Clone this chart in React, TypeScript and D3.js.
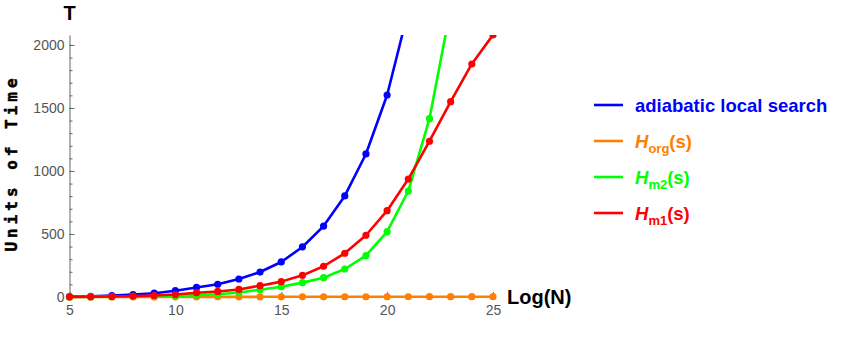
import React, { useRef, useEffect } from 'react';
import * as d3 from 'd3';

// log(N) sample points
const logN = [5, 6, 7, 8, 9, 10, 11, 12, 13, 14, 15, 16, 17, 18, 19, 20, 21, 22, 23, 24, 25];

// units of time
const adiabaticLocal = [3, 6, 12, 20, 30, 50, 76, 101, 143, 198, 278, 397, 563, 802, 1135, 1603, 2270];
const hOrg = [0.5, 0.6, 0.7, 0.8, 0.9, 1, 1.1, 1.2, 1.3, 1.4, 1.5, 1.6, 1.7, 1.8, 1.9, 2, 2.1, 2.2, 2.3, 2.4, 2.5];
const hM2 = [0.5, 1, 2, 3, 5, 9, 15, 22, 36, 58, 82, 114, 153, 222, 328, 518, 841, 1415, 2290];
const hM1 = [1, 2, 4, 7, 12, 20, 34, 44, 60, 90, 122, 172, 244, 347, 490, 685, 936, 1236, 1550, 1849, 2080];

const xMajorTicks = [5, 10, 15, 20, 25];
const yMajorTicks = [0, 500, 1000, 1500, 2000];

const series = [
  { key: 'adiabatic', values: adiabaticLocal, color: '#0000ff', label: 'adiabatic local search', sub: '' },
  { key: 'org', values: hOrg, color: '#ff8000', label: 'H', sub: 'org' },
  { key: 'm2', values: hM2, color: '#00ff00', label: 'H', sub: 'm2' },
  { key: 'm1', values: hM1, color: '#ff0000', label: 'H', sub: 'm1' },
];

const App = () => {
  const svgRef = useRef(null);

  useEffect(() => {
    const width = 844;
    const height = 347;
    const svg = d3.select(svgRef.current);
    svg.selectAll('*').remove();
    svg.attr('width', width).attr('height', height);

    const font = '"Liberation Sans", Arial, sans-serif';
    const axisColor = '#666';

    const x = d3.scaleLinear().domain([5, 25]).range([69.5, 493]);
    const y = d3.scaleLinear().domain([0, 2079]).range([297, 35]);

    svg.append('defs').append('clipPath').attr('id', 'plotclip')
      .append('rect').attr('x', 0).attr('y', 35).attr('width', width).attr('height', height - 35);

    // minor ticks
    svg.append('g')
      .attr('transform', `translate(0,${y(0)})`)
      .call(d3.axisBottom(x).tickValues(d3.range(5, 26)).tickSize(-3).tickFormat(() => ''))
      .call(g => g.select('.domain').remove())
      .call(g => g.selectAll('line').attr('stroke', axisColor));
    svg.append('g')
      .attr('transform', `translate(${x(5)},0)`)
      .call(d3.axisLeft(y).tickValues(d3.range(0, 2001, 100)).tickSize(-3).tickFormat(() => ''))
      .call(g => g.select('.domain').remove())
      .call(g => g.selectAll('line').attr('stroke', axisColor));

    // x axis
    svg.append('g')
      .attr('transform', `translate(0,${y(0)})`)
      .call(d3.axisBottom(x).tickValues(xMajorTicks).tickSize(-5).tickSizeOuter(0).tickPadding(8).tickFormat(d3.format('d')))
      .call(g => g.attr('font-size', 14).attr('font-family', font))
      .call(g => g.select('.domain').attr('stroke', axisColor))
      .call(g => g.selectAll('line').attr('stroke', axisColor))
      .call(g => g.selectAll('text').attr('fill', '#555'));

    // y axis
    svg.append('g')
      .attr('transform', `translate(${x(5)},0)`)
      .call(d3.axisLeft(y).tickValues(yMajorTicks).tickSize(-5).tickSizeOuter(0).tickPadding(5).tickFormat(d3.format('d')))
      .call(g => g.attr('font-size', 14).attr('font-family', font))
      .call(g => g.select('.domain').attr('stroke', axisColor))
      .call(g => g.selectAll('line').attr('stroke', axisColor))
      .call(g => g.selectAll('text').attr('fill', '#555'));

    // series
    const plot = svg.append('g').attr('clip-path', 'url(#plotclip)');
    series.forEach(s => {
      const pts = s.values.map((v, i) => ({ n: logN[i], v }));
      const line = d3.line<any>().x(d => x(d.n)).y(d => y(d.v));
      plot.append('path')
        .datum(pts)
        .attr('fill', 'none')
        .attr('stroke', s.color)
        .attr('stroke-width', 2.6)
        .attr('stroke-linejoin', 'round')
        .attr('d', line);
      plot.selectAll(`.pt-${s.key}`)
        .data(pts)
        .enter()
        .append('circle')
        .attr('class', `pt-${s.key}`)
        .attr('cx', d => x(d.n))
        .attr('cy', d => y(d.v))
        .attr('r', 3.6)
        .attr('fill', s.color);
    });

    // axis labels
    svg.append('text')
      .attr('x', x(5))
      .attr('y', 20)
      .attr('text-anchor', 'middle')
      .attr('font-family', font)
      .attr('font-weight', 'bold')
      .attr('font-size', 20)
      .text('T');

    svg.append('text')
      .attr('x', 507)
      .attr('y', 304)
      .attr('font-family', font)
      .attr('font-weight', 'bold')
      .attr('font-size', 20)
      .text('Log(N)');

    svg.append('text')
      .attr('transform', 'translate(17,163) rotate(-90)')
      .attr('text-anchor', 'middle')
      .attr('font-family', '"DejaVu Sans Mono", monospace')
      .attr('font-weight', 'bold')
      .attr('font-size', 16)
      .attr('letter-spacing', 4)
      .attr('stroke', '#000')
      .attr('stroke-width', 0.5)
      .text('Units of Time');

    // legend
    const legend = svg.append('g').attr('transform', 'translate(594,105)');
    series.forEach((s, i) => {
      const row = legend.append('g').attr('transform', `translate(0,${i * 36})`);
      row.append('line')
        .attr('x1', 0).attr('x2', 29)
        .attr('stroke', s.color).attr('stroke-width', 2.6);
      const t = row.append('text')
        .attr('x', 41)
        .attr('y', 7)
        .attr('fill', s.color)
        .attr('font-family', font)
        .attr('font-weight', 'bold')
        .attr('font-size', 18.5);
      if (s.sub) {
        t.append('tspan').attr('font-style', 'italic').text(s.label);
        t.append('tspan').attr('dy', 5).attr('font-size', 13).text(s.sub);
        t.append('tspan').attr('dy', -5).text('(s)');
      } else {
        t.text(s.label);
      }
    });
  }, []);

  return (
    <svg ref={svgRef} style={{ position: 'absolute', left: 0, top: 0, display: 'block' }}></svg>
  );
};

export default App;
